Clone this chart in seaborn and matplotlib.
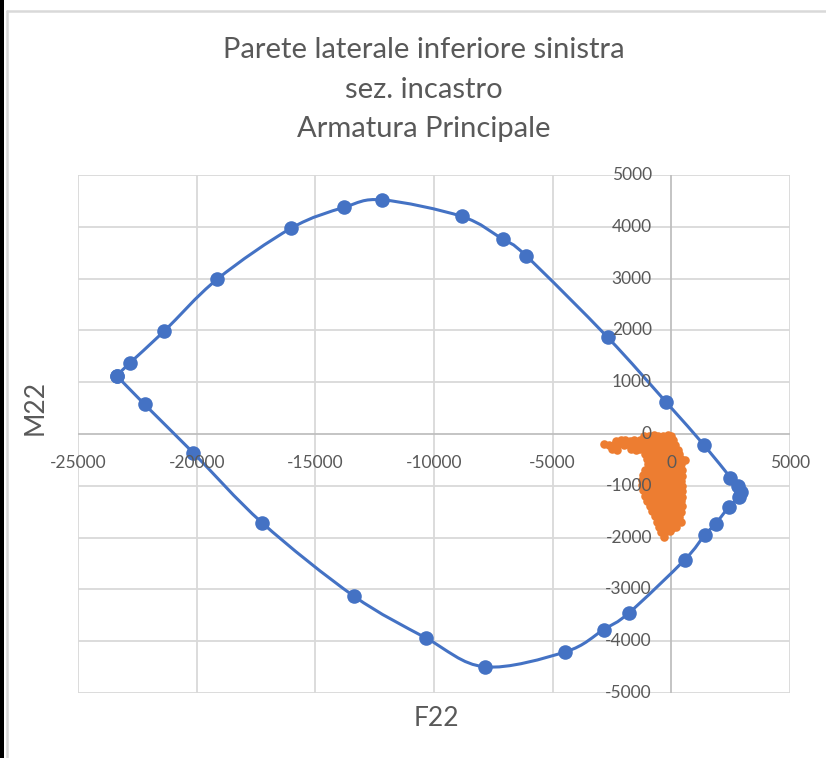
import numpy as np
import pandas as pd
import seaborn as sns
import matplotlib
matplotlib.use("Agg")
import matplotlib.pyplot as plt
from matplotlib.path import Path
from matplotlib.patches import PathPatch, Rectangle
from matplotlib.lines import Line2D

# Resistance domain of the section (closed interaction curve)
f22_domain = [-23370, -22820, -21380, -19130, -16010, -13790, -12180, -8830, -7110,
              -6120, -2680, -210, 1370, 2490, 2800, 2950, 2850, 2430, 1870, 1400,
              560, -1790, -2850, -4460, -7860, -10350, -13390, -17240, -20140,
              -22190, -23370]
m22_domain = [1125, 1370, 1980, 2990, 3975, 4375, 4520, 4200, 3760,
              3440, 1865, 610, -210, -840, -1000, -1120, -1220, -1405, -1730, -1955,
              -2430, -3455, -3775, -4205, -4495, -3935, -3125, -1715, -365,
              570, 1125]

# Design actions (F22, M22) of the load combinations
f22_comb = [
    -1150, -960, -740, -560, -340, -160, 0,
    -2350, -2140, -1960, -1740, -1560, -1330, -1160, -940, -760, -540, -360, -140, 60,
    -2820, -2610, -2390, -2210, -1990, -1810, -1590, -1410, -1190, -1010, -790, -610, -390, -210, 10, 160,
    -2480, -2290, -1720, -1490, -1310, -1090, -910, -690, -510, -290, -110, 110, 260,
    -1110, -890, -710, -490, -310, -90, 110, 310,
    -1010, -790, -610, -390, -210, 10, 190, 410, 560,
    -990, -810, -590, -410, -190, 10, 210, 390,
    -1110, -890, -710, -490, -310, -90, 110, 290, 460,
    -1190, -1010, -790, -610, -390, -210, 10, 190, 450,
    -1250, -1040, -860, -640, -460, -240, -60, 160, 410,
    -1240, -1060, -840, -660, -440, -260, -40, 140, 460,
    -1190, -1010, -790, -610, -390, -210, 10, 190, 440,
    -1110, -890, -710, -490, -310, -90, 110, 290, 450,
    -1010, -790, -610, -390, -210, 10, 190, 410,
    -890, -710, -490, -310, -90, 110, 290, 440,
    -810, -590, -410, -190, 10, 190, 410,
    -690, -510, -290, -110, 110, 340,
    -610, -390, -210, 10, 190, 390,
    -540, -360, -140, 40, 210,
    -440, -260, -40,
    -310,
]
m22_comb = [
    -30, -40, -20, -30, -40, -20, -30,
    -130, -110, -120, -140, -110, -120, -130, -110, -120, -140, -110, -130, -120,
    -200, -210, -190, -200, -220, -190, -210, -200, -190, -220, -200, -210, -190, -200, -220, -210,
    -280, -300, -290, -310, -280, -300, -290, -280, -310, -290, -300, -280, -310,
    -390, -400, -380, -410, -390, -380, -400, -390,
    -480, -490, -470, -500, -480, -470, -490, -480, -500,
    -580, -590, -570, -600, -580, -570, -590, -580,
    -690, -680, -700, -690, -680, -700, -690, -680, -700,
    -790, -800, -780, -810, -790, -780, -800, -790, -810,
    -890, -900, -880, -910, -890, -880, -900, -890, -910,
    -990, -1000, -980, -1010, -990, -980, -1000, -990, -1010,
    -1090, -1100, -1080, -1110, -1090, -1080, -1100, -1090, -1110,
    -1190, -1200, -1180, -1210, -1190, -1180, -1200, -1190, -1210,
    -1290, -1300, -1280, -1310, -1290, -1280, -1300, -1290,
    -1390, -1400, -1380, -1410, -1390, -1380, -1400, -1390,
    -1490, -1500, -1480, -1510, -1490, -1480, -1500,
    -1590, -1600, -1580, -1610, -1590, -1600,
    -1690, -1700, -1680, -1710, -1690, -1700,
    -1790, -1800, -1780, -1810, -1790,
    -1890, -1900, -1880,
    -1980,
]

title_lines = ["Parete laterale inferiore sinistra", "sez. incastro", "Armatura Principale"]
x_ticks = [-25000, -20000, -15000, -10000, -5000, 0, 5000]
y_ticks = [-5000, -4000, -3000, -2000, -1000, 0, 1000, 2000, 3000, 4000, 5000]

BLUE = "#4472C4"
ORANGE = "#ED7D31"
GRID = "#D9D9D9"
TEXT = "#595959"

sns.set_theme(style="white")
plt.rcParams["font.family"] = ["Lato", "DejaVu Sans"]

fig = plt.figure(figsize=(8.26, 7.58), dpi=100)
ax = fig.add_axes([78 / 826, 1 - 693 / 758, (790 - 78) / 826, (693 - 175) / 758])

domain = pd.DataFrame({"F22": f22_domain, "M22": m22_domain})
comb = pd.DataFrame({"F22": f22_comb, "M22": m22_comb})

# Smoothed line through the domain points (cubic Bezier, Catmull-Rom tangents)
pts = domain[["F22", "M22"]].to_numpy(dtype=float)
n = len(pts)
verts = [pts[0]]
codes = [Path.MOVETO]
for i in range(n - 1):
    p0 = pts[i - 1] if i > 0 else pts[i]
    p1 = pts[i]
    p2 = pts[i + 1]
    p3 = pts[i + 2] if i + 2 < n else pts[i + 1]
    c1 = p1 + (p2 - p0) / 6.0
    c2 = p2 - (p3 - p1) / 6.0
    verts += [c1, c2, p2]
    codes += [Path.CURVE4] * 3
ax.add_patch(PathPatch(Path(verts, codes), facecolor="none", edgecolor=BLUE,
                       lw=2.2, zorder=3, capstyle="round", joinstyle="round"))

sns.scatterplot(data=domain, x="F22", y="M22", ax=ax, color=BLUE, s=110,
                edgecolor=BLUE, linewidth=0, zorder=4)
sns.scatterplot(data=comb, x="F22", y="M22", ax=ax, color=ORANGE, s=38,
                edgecolor=ORANGE, linewidth=0, zorder=5)

ax.set_xlim(-25000, 5000)
ax.set_ylim(-5000, 5000)

# gridlines
for xv in x_ticks:
    if xv != 0:
        ax.axvline(xv, color=GRID, lw=1.3, zorder=1)
for yv in y_ticks:
    if yv != 0:
        ax.axhline(yv, color=GRID, lw=1.3, zorder=1)
# axes crossing at the origin
ax.axvline(0, color="#BFBFBF", lw=1.3, zorder=2)
ax.axhline(0, color="#BFBFBF", lw=1.3, zorder=2)

for s in ax.spines.values():
    s.set_visible(False)
ax.set_xticks([])
ax.set_yticks([])
ax.set_xlabel("")
ax.set_ylabel("")

# tick labels placed along the axes through the origin
for xv in x_ticks:
    ax.annotate(f"{xv}", xy=(xv, 0), xytext=(0, -21), textcoords="offset points",
                ha="center", va="center", fontsize=12.5, color=TEXT, zorder=6)
for yv in y_ticks:
    ax.annotate(f"{yv}", xy=(0, yv), xytext=(-14, 0), textcoords="offset points",
                ha="right", va="center", fontsize=12.5, color=TEXT, zorder=6)

# axis titles
fig.text(436 / 826, 1 - 718 / 758, "F22", ha="center", va="center", fontsize=19, color=TEXT)
fig.text(35 / 826, 1 - 407 / 758, "M22", ha="center", va="center", fontsize=19,
         color=TEXT, rotation=90)

# chart title
for yy, line in zip([50, 90, 129], title_lines):
    fig.text(424 / 826, 1 - yy / 758, line, ha="center", va="center", fontsize=21,
             color=TEXT)

# chart frame
fig.patches.append(Rectangle((0, 0), 4 / 826, 1, transform=fig.transFigure,
                             facecolor="black", edgecolor="none"))
fig.lines.append(Line2D([6.5 / 826, 6.5 / 826], [0, 1 - 10.5 / 758],
                        transform=fig.transFigure, color=GRID, lw=1.8))
fig.lines.append(Line2D([6.5 / 826, 1], [1 - 10.5 / 758, 1 - 10.5 / 758],
                        transform=fig.transFigure, color=GRID, lw=1.8))

fig.savefig("out.png", dpi=100)
